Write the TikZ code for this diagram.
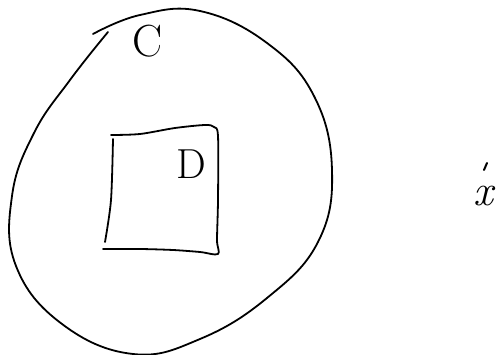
\documentclass[tikz,border=0pt]{standalone}
\usepackage{fontspec}
\usetikzlibrary{calc}
\begin{document}
\begin{tikzpicture}[x=1pt,y=-1pt,
  pen/.style={line width=1.8pt,line cap=round,line join=round,black},
  lbl/.style={inner sep=0pt,outer sep=0pt,anchor=center,font=\fontsize{45}{45}\selectfont}]
\useasboundingbox (0,0) rectangle (498,355);
% set C (blob)
\draw[pen] plot[smooth,tension=0.7] coordinates {
 (93,34) (140,15) (200,11) (267,43) (314,96) (332,170) (318,242)
 (267,298) (200,339) (133,354) (62,324) (16,266) (12,196) (34,133)
 (70,80) (108,32)};
% set D (square)
\draw[pen] plot[smooth,tension=0.5] coordinates {
 (111,135) (140,134) (175,128) (205,125) (214,127) (218,136)
 (218,200) (217,240) (218,254) (200,252) (173,250) (140,249) (103,249)};
\draw[pen] plot[smooth,tension=0.5] coordinates {(113,139) (111,200) (105,242)};
% labels
\node[lbl] (C) at (148,41) {C};
\node[lbl,font=\fontsize{42}{42}\selectfont] (D) at (191,164) {D};
\node[lbl,font=\fontsize{44}{44}\selectfont\itshape] (x) at (483,196) {x};
% point mark above x
\coordinate (m1) at (484,170);
\coordinate (m2) at (487,163);
\draw[pen,line width=2pt] (m1) -- (m2);
\end{tikzpicture}
\end{document}
